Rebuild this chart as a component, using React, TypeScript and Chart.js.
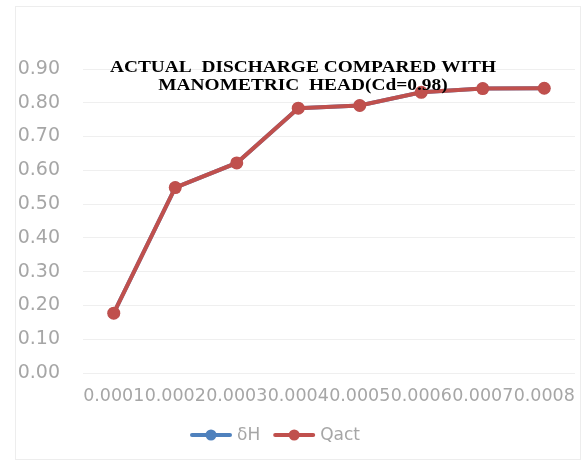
import React, { useEffect, useRef } from "react";
import { Chart, registerables } from "chart.js";

Chart.register(...registerables);

// Manometric head readings (category labels) and measured discharge
const headLabels = ["0.0001", "0.0002", "0.0003", "0.0004", "0.0005", "0.0006", "0.0007", "0.0008"];
const deltaH = [0.177, 0.549, 0.622, 0.784, 0.792, 0.831, 0.842, 0.843];
const qAct = [0.177, 0.549, 0.622, 0.784, 0.792, 0.831, 0.842, 0.843];
const titleLines = ["ACTUAL  DISCHARGE COMPARED WITH", "MANOMETRIC  HEAD(Cd=0.98)"];

const BLUE = "#4F81BD";
const RED = "#C0504D";
const TICK = "#A6A6A6";
const FONT = "'DejaVu Sans', Verdana, sans-serif";

// light outer frame of the chart
const frame = {
  id: "frame",
  beforeDraw(chart: Chart) {
    const { ctx } = chart;
    ctx.save();
    ctx.fillStyle = "#ffffff";
    ctx.fillRect(0, 0, chart.width, chart.height);
    ctx.strokeStyle = "#EDEDED";
    ctx.lineWidth = 1;
    ctx.strokeRect(15.5, 6.5, 565, 453);
    ctx.restore();
  },
};

// two-line title laid over the top of the plot
const overlayTitle = {
  id: "overlayTitle",
  afterDatasetsDraw(chart: Chart) {
    const { ctx, chartArea } = chart;
    ctx.save();
    ctx.fillStyle = "#000000";
    ctx.font = "bold 17px 'Liberation Serif', 'Times New Roman', serif";
    ctx.textAlign = "center";
    ctx.textBaseline = "middle";
    const cx = chartArea.left + 220;
    titleLines.forEach((line, i) => {
      ctx.save();
      ctx.translate(cx, chartArea.top - 1.5 + i * 18);
      ctx.scale(1.14, 1);
      ctx.fillText(line, 0, 0);
      ctx.restore();
    });
    ctx.restore();
  },
};

// legend: line-with-marker swatch followed by the series name
const lineLegend = {
  id: "lineLegend",
  afterDraw(chart: Chart) {
    const { ctx, chartArea } = chart;
    ctx.save();
    ctx.font = `17px ${FONT}`;
    ctx.textBaseline = "middle";
    const items = chart.data.datasets.map((d: any) => ({
      text: d.label as string,
      color: d.borderColor as string,
      w: ctx.measureText(d.label).width,
    }));
    const sw = 42;
    const gap = 5;
    const between = 13;
    const total = items.reduce((s, it) => s + sw + gap + it.w, 0) + between * (items.length - 1);
    let x = chartArea.left + 192 - total / 2;
    const y = 435;
    items.forEach((it) => {
      ctx.strokeStyle = it.color;
      ctx.lineWidth = 4;
      ctx.lineCap = "round";
      ctx.beginPath();
      ctx.moveTo(x + 2, y);
      ctx.lineTo(x + sw - 2, y);
      ctx.stroke();
      ctx.fillStyle = it.color;
      ctx.beginPath();
      ctx.arc(x + sw / 2, y, 5.5, 0, Math.PI * 2);
      ctx.fill();
      ctx.fillStyle = TICK;
      ctx.fillText(it.text, x + sw + gap, y + 1);
      x += sw + gap + it.w + between;
    });
    ctx.restore();
  },
};

export default function App() {
  const ref = useRef<HTMLCanvasElement | null>(null);

  useEffect(() => {
    if (!ref.current) return;
    const chart = new Chart(ref.current, {
      type: "line",
      data: {
        labels: headLabels,
        datasets: [
          {
            label: "δH",
            data: deltaH,
            borderColor: BLUE,
            backgroundColor: BLUE,
            borderWidth: 4,
            pointRadius: 6,
            pointBorderWidth: 0,
            pointBackgroundColor: BLUE,
            order: 1,
          },
          {
            label: "Qact",
            data: qAct,
            borderColor: RED,
            backgroundColor: RED,
            borderWidth: 4,
            pointRadius: 6.5,
            pointBorderWidth: 0,
            pointBackgroundColor: RED,
            order: 0,
          },
        ],
      },
      options: {
        animation: false,
        responsive: false,
        layout: { padding: { left: 17, right: 9, top: 69, bottom: 54 } },
        scales: {
          x: {
            offset: true,
            grid: { display: false, drawTicks: false },
            border: { display: false },
            ticks: {
              color: TICK,
              font: { family: FONT, size: 17.5 },
              autoSkip: false,
              maxRotation: 0,
              minRotation: 0,
              padding: 13,
            },
            afterFit: (s: any) => {
              s.height = 34;
              s.paddingLeft = 0;
              s.paddingRight = 0;
            },
          },
          y: {
            min: 0,
            max: 0.9,
            grid: { color: "#EFEFEF", drawTicks: false },
            border: { display: false },
            ticks: {
              stepSize: 0.1,
              color: TICK,
              font: { family: FONT, size: 19 },
              padding: 23,
              callback: (v: any) => Number(v).toFixed(2),
            },
            afterFit: (s: any) => {
              s.width = 66;
              s.paddingTop = 0;
              s.paddingBottom = 0;
            },
          },
        },
        plugins: {
          title: { display: false },
          tooltip: { enabled: false },
          legend: { display: false },
        },
      },
      plugins: [frame, overlayTitle, lineLegend],
    });
    return () => chart.destroy();
  }, []);

  return (
    <div style={{ position: "fixed", left: 0, top: 0, width: 584, height: 461, background: "#fff" }}>
      <canvas ref={ref} width={584} height={461} style={{ display: "block" }} />
    </div>
  );
}
